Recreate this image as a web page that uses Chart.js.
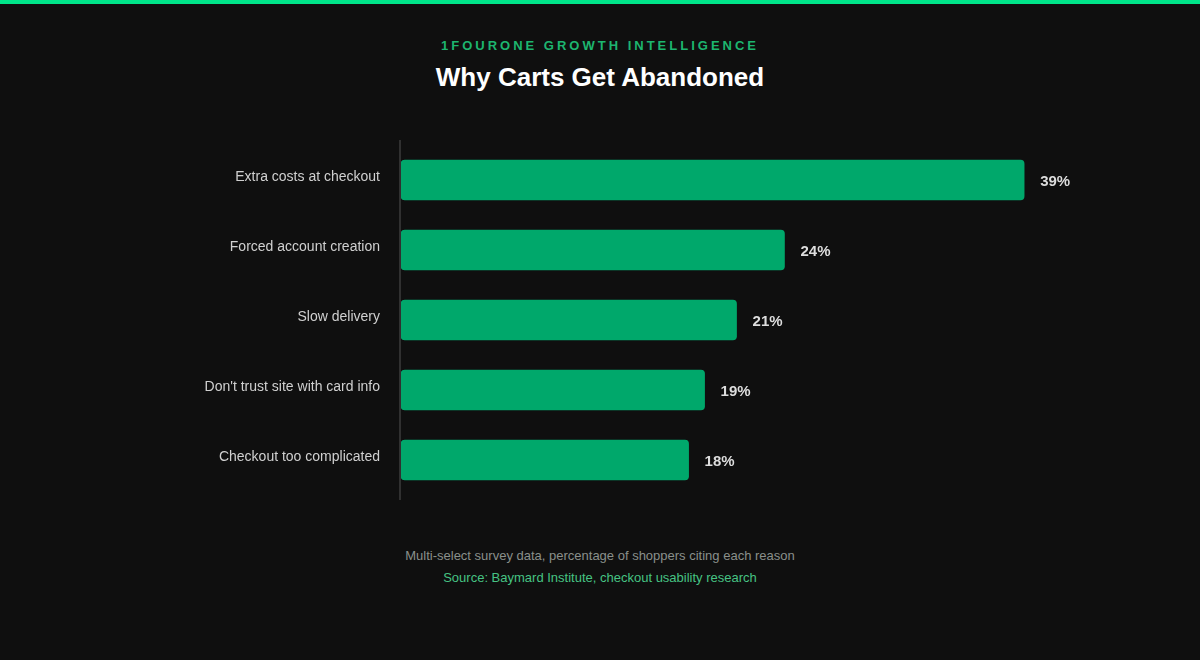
<!DOCTYPE html>
<html>
<head>
<meta charset="utf-8">
<script src="https://cdn.jsdelivr.net/npm/chart.js@4"></script>
<style>
  html, body { margin: 0; padding: 0; background: #0f0f0f; }
  body { width: 1200px; height: 660px; position: relative; overflow: hidden; font-family: "Liberation Sans", Arial, sans-serif; }
  .topbar { position: absolute; left: 0; top: 0; width: 1200px; height: 4px; background: #00e68a; }
  .kicker { position: absolute; top: 38px; left: 0; width: 1200px; text-align: center; font-size: 13px; font-weight: bold; letter-spacing: 3px; color: #1db56f; }
  .title { position: absolute; top: 62px; left: 0; width: 1200px; text-align: center; font-size: 26px; font-weight: bold; color: #ffffff; }
  .note { position: absolute; top: 548px; left: 0; width: 1200px; text-align: center; font-size: 13px; color: #8a8f8b; }
  .source { position: absolute; top: 570px; left: 0; width: 1200px; text-align: center; font-size: 13px; color: #46c383; }
  #cartChart { position: absolute; left: 0; top: 130px; }
</style>
</head>
<body>
<div class="topbar"></div>
<div class="kicker">1FOURONE GROWTH INTELLIGENCE</div>
<div class="title">Why Carts Get Abandoned</div>
<canvas id="cartChart" width="1200" height="380"></canvas>
<div class="note">Multi-select survey data, percentage of shoppers citing each reason</div>
<div class="source">Source: Baymard Institute, checkout usability research</div>
<script>
const reasons = ['Extra costs at checkout', 'Forced account creation', 'Slow delivery', "Don't trust site with card info", 'Checkout too complicated'];
const shares = [39, 24, 21, 19, 18];

// value labels to the right of every bar
const valueLabels = {
  id: 'valueLabels',
  afterDatasetsDraw(chart) {
    const ctx = chart.ctx;
    const meta = chart.getDatasetMeta(0);
    ctx.save();
    ctx.font = 'bold 15px "Liberation Sans", Arial, sans-serif';
    ctx.fillStyle = '#dddddd';
    ctx.textAlign = 'left';
    ctx.textBaseline = 'middle';
    meta.data.forEach((bar, i) => {
      ctx.fillText(shares[i] + '%', bar.x + 16, bar.y + 2);
    });
    ctx.restore();
  }
};

// left axis line, a bit longer than the plot area
const axisLine = {
  id: 'axisLine',
  beforeDatasetsDraw(chart) {
    const { ctx, chartArea } = chart;
    ctx.save();
    ctx.strokeStyle = '#303030';
    ctx.lineWidth = 2;
    ctx.beginPath();
    ctx.moveTo(chartArea.left - 1, chartArea.top - 5);
    ctx.lineTo(chartArea.left - 1, chartArea.bottom + 5);
    ctx.stroke();
    ctx.restore();
  }
};

const chart = new Chart(document.getElementById('cartChart'), {
  type: 'bar',
  data: {
    labels: reasons,
    datasets: [{
      data: shares,
      backgroundColor: '#00a86b',
      borderRadius: 4,
      borderSkipped: false,
      barThickness: 40
    }]
  },
  options: {
    indexAxis: 'y',
    responsive: false,
    animation: false,
    layout: { padding: { top: 15, bottom: 15, right: 80, left: 0 } },
    plugins: { legend: { display: false }, tooltip: { enabled: false } },
    scales: {
      x: { display: false, min: 0, max: 45 },
      y: {
        afterFit(scale) {
          scale.width = 401;
          scale.paddingTop = 0;
          scale.paddingBottom = 0;
        },
        grid: { display: false, drawTicks: false },
        border: { display: false },
        ticks: {
          color: '#d0d0d0',
          padding: 21,
          labelOffset: -3,
          font: { size: 14, family: '"Liberation Sans", Arial, sans-serif' }
        }
      }
    }
  },
  plugins: [axisLine, valueLabels]
});
</script>
</body>
</html>
